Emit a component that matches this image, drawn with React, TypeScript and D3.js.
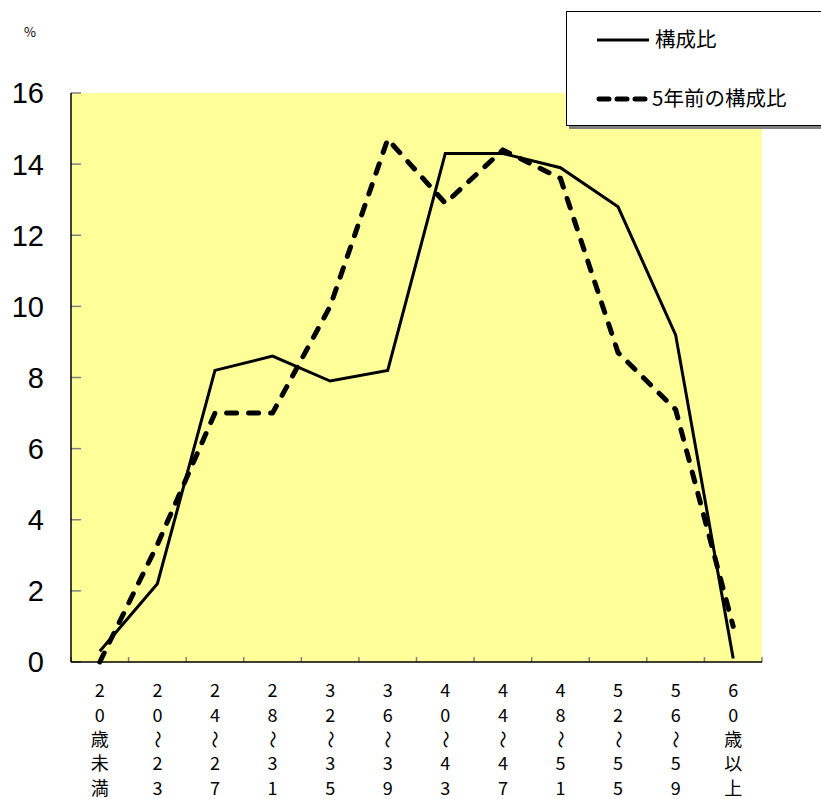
import React from "react";
import * as d3 from "d3";

const categories: string[][] = [
  ["2", "0", "歳", "未", "満"],
  ["2", "0", "〜", "2", "3"],
  ["2", "4", "〜", "2", "7"],
  ["2", "8", "〜", "3", "1"],
  ["3", "2", "〜", "3", "5"],
  ["3", "6", "〜", "3", "9"],
  ["4", "0", "〜", "4", "3"],
  ["4", "4", "〜", "4", "7"],
  ["4", "8", "〜", "5", "1"],
  ["5", "2", "〜", "5", "5"],
  ["5", "6", "〜", "5", "9"],
  ["6", "0", "歳", "以", "上"],
];
const current: number[] = [0.3, 2.2, 8.2, 8.6, 7.9, 8.2, 14.3, 14.3, 13.9, 12.8, 9.2, 0.1];
const fiveYearsAgo: number[] = [0.0, 3.3, 7.0, 7.0, 10.0, 14.7, 12.9, 14.4, 13.6, 8.7, 7.1, 1.0];
const yTicks: number[] = [0, 2, 4, 6, 8, 10, 12, 14, 16];
const seriesNames = ["構成比", "5年前の構成比"];

const W = 821, H = 799;
const left = 71, right = 762, top = 93, bottom = 662;
const font = "'Noto Sans CJK JP', 'Liberation Sans', sans-serif";

export default function App() {
  const idx = categories.map((_, i) => String(i));
  const x = d3.scaleBand<string>().domain(idx).range([left, right]).padding(0);
  const y = d3.scaleLinear().domain([0, 16]).range([bottom, top]);
  const cx = (i: number) => (x(String(i)) as number) + x.bandwidth() / 2;
  const line = d3.line<number>().x((_, i) => cx(i)).y((d) => y(d));
  const boundaries = d3.range(categories.length + 1).map((k) => left + k * x.bandwidth());

  return (
    <svg width={W} height={H} style={{ position: "absolute", left: 0, top: 0, background: "#fff" }}>
      <text x={24} y={37} fontSize={13} fontFamily={font} fill="#000">%</text>
      <rect x={left} y={top} width={right - left} height={bottom - top} fill="#FFFF99" />
      {yTicks.map((t) => (
        <g key={t}>
          <line x1={left} x2={left + 10} y1={y(t)} y2={y(t)} stroke="#808080" strokeWidth={1.5} />
          <text x={44} y={y(t)} dy="0.36em" textAnchor="end" fontSize={29} fontFamily="'Liberation Sans', sans-serif" fill="#000">{t}</text>
        </g>
      ))}
      {boundaries.map((b, k) => (
        <line key={k} x1={b} x2={b} y1={bottom} y2={bottom - 5} stroke="#808080" strokeWidth={1.5} />
      ))}
      <line x1={left} x2={left} y1={top} y2={bottom} stroke="#000" strokeWidth={1.5} />
      <line x1={left} x2={right} y1={bottom} y2={bottom} stroke="#000" strokeWidth={1.5} />
      <path d={line(fiveYearsAgo) || ""} fill="none" stroke="#000" strokeWidth={5} strokeDasharray="10,12" strokeLinecap="round" strokeLinejoin="round" />
      <path d={line(current) || ""} fill="none" stroke="#000" strokeWidth={3} strokeLinejoin="miter" />
      {categories.map((c, i) => (
        <g key={i}>
          {c.map((ch, r) => {
            const ty = 691 + r * 24.3;
            return ch === "〜" ? (
              <text key={r} x={0} y={0} dy="0.36em" textAnchor="middle" fontSize={18} fontFamily={font} fill="#000"
                transform={`translate(${cx(i)},${ty}) rotate(90)`}>
                {ch}
              </text>
            ) : (
              <text key={r} x={cx(i)} y={ty} dy="0.36em" textAnchor="middle" fontSize={18} fontFamily={font} fill="#000">
                {ch}
              </text>
            );
          })}
        </g>
      ))}
      <rect x={569} y={14} width={260} height={115} fill="#808080" />
      <rect x={566.5} y={11.5} width={260} height={114} fill="#fff" stroke="#000" strokeWidth={1} />
      <line x1={597} x2={649} y1={40} y2={40} stroke="#000" strokeWidth={3} />
      <text x={655} y={40} dy="0.36em" fontSize={20.5} fontFamily={font} fill="#000">{seriesNames[0]}</text>
      <line x1={599} x2={649} y1={99} y2={99} stroke="#000" strokeWidth={5} strokeDasharray="10,8" strokeLinecap="round" />
      <text x={652} y={99} dy="0.36em" fontSize={20.5} fontFamily={font} fill="#000">{seriesNames[1]}</text>
    </svg>
  );
}
